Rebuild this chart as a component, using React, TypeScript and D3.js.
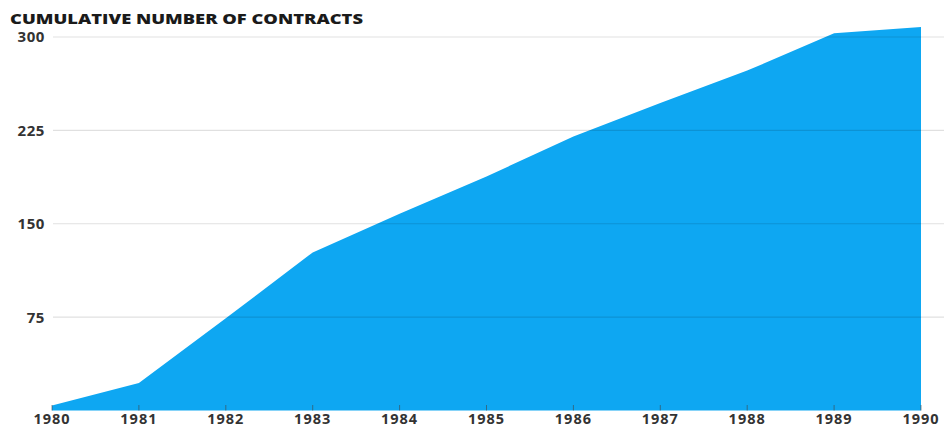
import React from "react";
import * as d3 from "d3";

const years = [1980, 1981, 1982, 1983, 1984, 1985, 1986, 1987, 1988, 1989, 1990];
const contracts = [4, 22, 74, 127, 158, 188, 220, 247, 273, 303, 308];
const yTicks = [75, 150, 225, 300];
const title = "CUMULATIVE NUMBER OF CONTRACTS";

export default function App() {
  const W = 944, H = 428;
  const x = d3.scaleLinear().domain([1980, 1990]).range([52, 921]);
  const y = d3.scaleLinear().domain([0, 300]).range([410.5, 37]);
  const data = years.map((yr, i) => ({ yr, v: contracts[i] }));
  const area = d3.area<{ yr: number; v: number }>()
    .x(d => x(d.yr))
    .y0(y(0))
    .y1(d => y(d.v));
  const font = "'Open Sans', Lato, sans-serif";
  return (
    <svg width={W} height={H} style={{ position: "absolute", left: 0, top: 0, background: "#fff" }}>
      <path d={area(data) || ""} fill="#0ea7f2" />
      {yTicks.map(t => (
        <g key={t}>
          <line x1={53} x2={W} y1={y(t)} y2={y(t)} stroke="#000" strokeOpacity={0.12} strokeWidth={1.2} />
          <text x={45} y={y(t)} dy="0.36em" textAnchor="end" fontFamily={font} fontWeight={700} fontSize={15} letterSpacing={0.6} fill="#333">{t}</text>
        </g>
      ))}
      {years.map(yr => (
        <g key={yr}>
          <line x1={x(yr)} x2={x(yr)} y1={405} y2={410.5} stroke="#444" strokeOpacity={0.6} strokeWidth={1} />
          <text x={x(yr)} y={424} textAnchor="middle" fontFamily={font} fontWeight={700} fontSize={14.5} letterSpacing={1} fill="#333">{yr}</text>
        </g>
      ))}
      <text x={10} y={23.5} fontFamily={font} fontWeight={800} fontSize={14.5} textLength={353} lengthAdjust="spacingAndGlyphs" fill="#1a1a1a">{title}</text>
    </svg>
  );
}
